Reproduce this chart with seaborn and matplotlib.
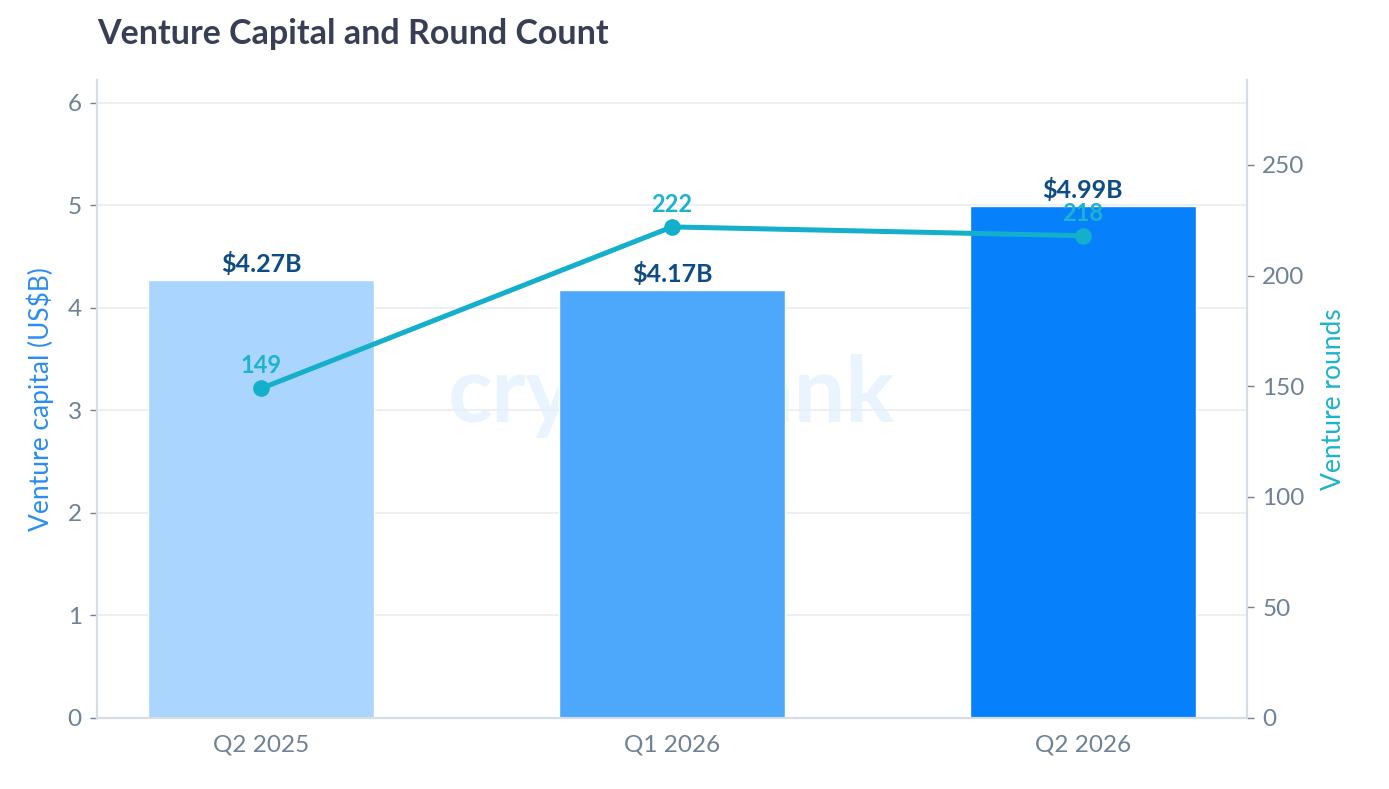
import numpy as np
import pandas as pd
import matplotlib
matplotlib.use("Agg")
import matplotlib.pyplot as plt
import seaborn as sns

# chart values
quarters = ["Q2 2025", "Q1 2026", "Q2 2026"]
capital_b = [4.27, 4.17, 4.99]
rounds = [149, 222, 218]
bar_colors = ["#AAD5FE", "#4DA8FC", "#0780FC"]

sns.set_theme(style="white")
plt.rcParams['font.family'] = ['Lato', 'DejaVu Sans']

tick_gray = "#6E8195"
spine_gray = "#D6DDE5"
line_color = "#14AFCB"

df = pd.DataFrame({'quarter': quarters, 'capital': capital_b, 'rounds': rounds})

fig = plt.figure(figsize=(13.89, 7.89), dpi=100)
ax = fig.add_axes([97 / 1389, 1 - 718 / 789, 1150 / 1389, 638 / 789])

# watermark sits behind bars
ax.text(0.5, 0.505, "cryptorank", transform=ax.transAxes, ha='center', va='center',
        fontsize=66, fontweight='bold', color='#EAF4FE', zorder=0)

sns.barplot(data=df, x='quarter', y='capital', hue='quarter', palette=bar_colors,
            width=0.55, legend=False, ax=ax, zorder=2, saturation=1)

for i, v in enumerate(capital_b):
    ax.annotate(f"${v:.2f}B", (i, v), xytext=(0, 3), textcoords='offset points',
                ha='center', va='bottom', fontsize=18, fontweight='bold', color='#0E4C86', zorder=5)

ax.set_xlim(-0.4, 2.4)
ax.set_ylim(0, 6.22)
ax.set_yticks([0, 1, 2, 3, 4, 5, 6])
ax.yaxis.grid(True, color='#E9EDF2', linewidth=1.2)
ax.set_axisbelow(True)
ax.set_xlabel("")
ax.set_ylabel("Venture capital (US$B)", color='#2A8DF2', fontsize=19, labelpad=10)

ax2 = ax.twinx()
sns.lineplot(x=np.arange(len(quarters)), y=rounds, ax=ax2, color=line_color, linewidth=3.6,
             marker='o', markersize=12, markeredgewidth=0, zorder=4)
for i, r in enumerate(rounds):
    ax2.annotate(str(r), (i, r), xytext=(0, 8), textcoords='offset points',
                 ha='center', va='bottom', fontsize=17, fontweight='bold', color='#1DB3CE', zorder=5)
ax2.set_ylim(0, 288.4)
ax2.set_yticks([0, 50, 100, 150, 200, 250])
ax2.set_ylabel("Venture rounds", color='#1DB3CE', fontsize=19, labelpad=12)
ax2.grid(False)

for a in (ax, ax2):
    for s in a.spines.values():
        s.set_color(spine_gray)
        s.set_linewidth(1.5)
    a.spines['top'].set_visible(False)
    a.tick_params(colors=tick_gray, labelsize=17.5, length=5, width=1, direction='out')
    a.tick_params(axis='both', labelcolor=tick_gray)
ax.tick_params(axis='x', pad=7)
ax.tick_params(axis='y', pad=6)
ax2.tick_params(axis='y', pad=6)

fig.text(97 / 1389, 1 - 34 / 789, "Venture Capital and Round Count", fontsize=24.5,
         fontweight='bold', color='#383F55', ha='left', va='center')

fig.savefig("out.png", dpi=100)
